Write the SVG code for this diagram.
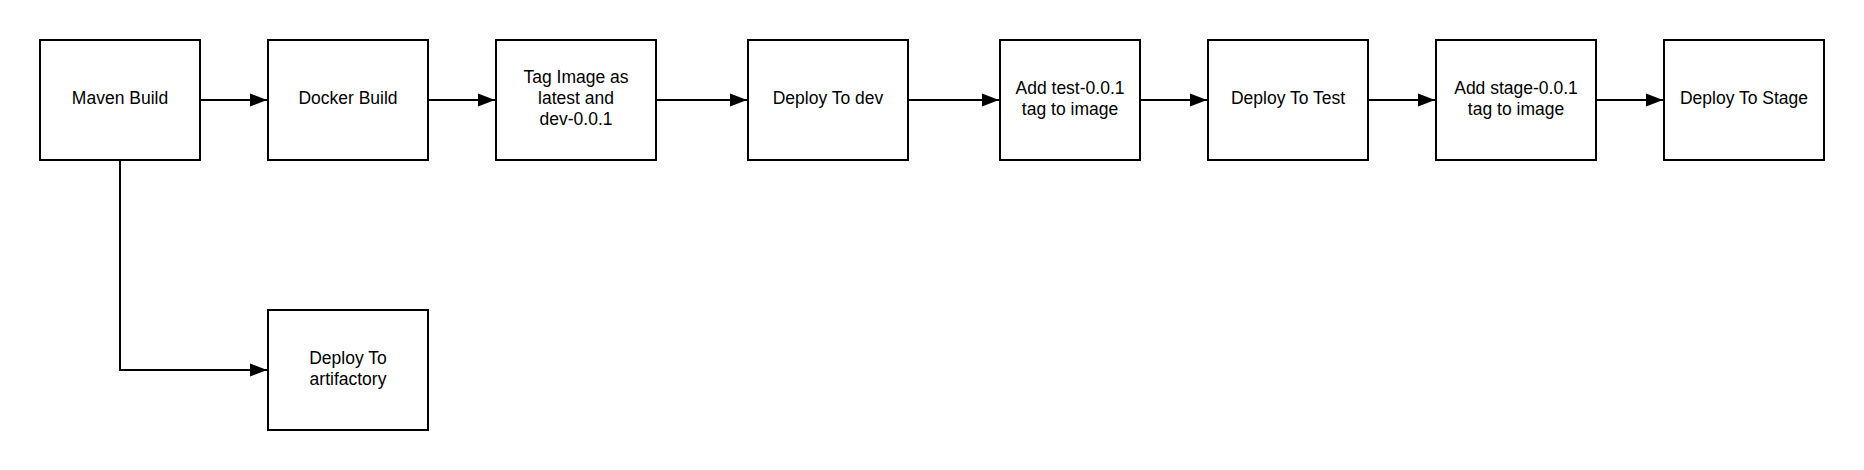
<svg xmlns="http://www.w3.org/2000/svg" width="1864" height="470" viewBox="0 0 1864 470">
<style>
.box{fill:#fff;stroke:#000;stroke-width:2}
.lbl{font-family:"Liberation Sans",Arial,sans-serif;font-size:17.5px;fill:#000;text-anchor:middle}
.edge{fill:none;stroke:#000;stroke-width:2}
</style>
<defs>
<marker id="arr" markerUnits="userSpaceOnUse" markerWidth="20" markerHeight="16" refX="18" refY="8" orient="auto">
<path d="M1,1.5 L18,8 L1,14.5 Z" fill="#000"/>
</marker>
</defs>
<rect width="1864" height="470" fill="#fff"/>
<g id="connectors">
<path class="edge" d="M200,100 H267" marker-end="url(#arr)"/>
<path class="edge" d="M428,100 H495" marker-end="url(#arr)"/>
<path class="edge" d="M656,100 H747" marker-end="url(#arr)"/>
<path class="edge" d="M908,100 H999" marker-end="url(#arr)"/>
<path class="edge" d="M1140,100 H1207" marker-end="url(#arr)"/>
<path class="edge" d="M1368,100 H1435" marker-end="url(#arr)"/>
<path class="edge" d="M1596,100 H1663" marker-end="url(#arr)"/>
<path class="edge" d="M120,160 V370 H267" marker-end="url(#arr)"/>
</g>
<g id="maven-build">
<rect class="box" x="40" y="40" width="160" height="120"/>
<text class="lbl" x="120" y="104">Maven Build</text>
</g>
<g id="docker-build">
<rect class="box" x="268" y="40" width="160" height="120"/>
<text class="lbl" x="348" y="104">Docker Build</text>
</g>
<g id="tag-image">
<rect class="box" x="496" y="40" width="160" height="120"/>
<text class="lbl" x="576" y="83">Tag Image as</text>
<text class="lbl" x="576" y="104">latest and</text>
<text class="lbl" x="576" y="125">dev-0.0.1</text>
</g>
<g id="deploy-dev">
<rect class="box" x="748" y="40" width="160" height="120"/>
<text class="lbl" x="828" y="104">Deploy To dev</text>
</g>
<g id="add-test-tag">
<rect class="box" x="1000" y="40" width="140" height="120"/>
<text class="lbl" x="1070" y="93.5">Add test-0.0.1</text>
<text class="lbl" x="1070" y="114.5">tag to image</text>
</g>
<g id="deploy-test">
<rect class="box" x="1208" y="40" width="160" height="120"/>
<text class="lbl" x="1288" y="104">Deploy To Test</text>
</g>
<g id="add-stage-tag">
<rect class="box" x="1436" y="40" width="160" height="120"/>
<text class="lbl" x="1516" y="93.5">Add stage-0.0.1</text>
<text class="lbl" x="1516" y="114.5">tag to image</text>
</g>
<g id="deploy-stage">
<rect class="box" x="1664" y="40" width="160" height="120"/>
<text class="lbl" x="1744" y="104">Deploy To Stage</text>
</g>
<g id="deploy-artifactory">
<rect class="box" x="268" y="310" width="160" height="120"/>
<text class="lbl" x="348" y="363.5">Deploy To</text>
<text class="lbl" x="348" y="384.5">artifactory</text>
</g>
</svg>
